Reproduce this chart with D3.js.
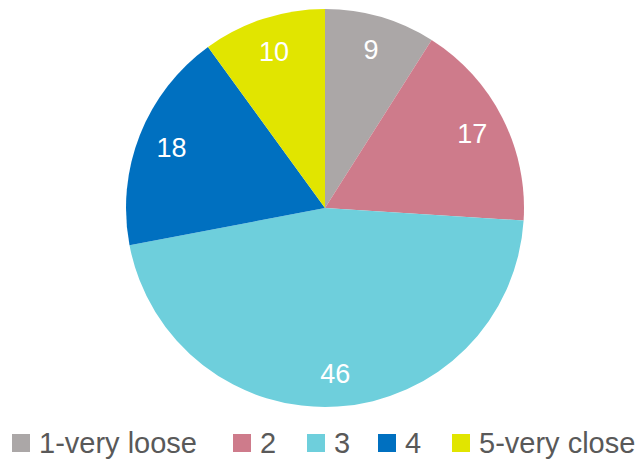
<!DOCTYPE html>
<html><head><meta charset="utf-8">
<script src="https://cdn.jsdelivr.net/npm/d3@7"></script>
<style>html,body{margin:0;padding:0;background:#fff;}</style>
</head><body>
<svg id="chart" width="641" height="460"></svg>
<script>
const categories = ["1-very loose", "2", "3", "4", "5-very close"];
const values = [9, 17, 46, 18, 10];
const colors = ["#ABA7A7", "#CE7B8B", "#6ECFDC", "#0070C0", "#E1E500"];

const svg = d3.select("#chart");
const cx = 325, cy = 208, R = 199;
const pie = d3.pie().sort(null).value(d => d.v);
const data = pie(categories.map((c, i) => ({c, v: values[i], col: colors[i]})));
const arc = d3.arc().innerRadius(0).outerRadius(R);
const labelArc = d3.arc().innerRadius(R * 0.83).outerRadius(R * 0.83);

const g = svg.append("g").attr("transform", `translate(${cx},${cy})`);
g.selectAll("path").data(data).join("path")
  .attr("d", arc).attr("fill", d => d.data.col);
g.selectAll("text").data(data).join("text")
  .attr("transform", d => `translate(${labelArc.centroid(d)})`)
  .attr("text-anchor", "middle").attr("dy", "0.36em")
  .attr("fill", "#fff").attr("font-family", "Liberation Sans, Arial, sans-serif")
  .attr("font-size", 27).text(d => d.data.v);

// legend
const legendX = [12, 233, 307, 378, 452];
const lg = svg.append("g");
const items = lg.selectAll("g").data(categories).join("g")
  .attr("transform", (d, i) => `translate(${legendX[i]},0)`);
items.append("rect").attr("x", 0).attr("y", 434).attr("width", 18).attr("height", 18)
  .attr("fill", (d, i) => colors[i]);
items.append("text").attr("x", 27).attr("y", 453)
  .attr("fill", "#595959").attr("font-family", "Liberation Sans, Arial, sans-serif")
  .attr("font-size", 29).text(d => d);
</script>
</body></html>
